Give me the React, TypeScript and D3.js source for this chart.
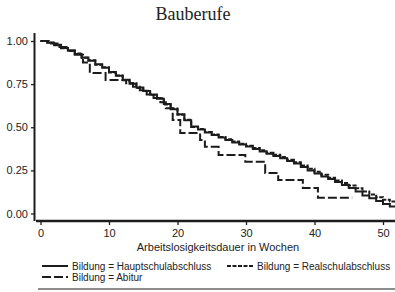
import * as d3 from "d3";
import React, { useRef, useEffect } from "react";

// survival per week (0..52)
const weeks = [0, 1, 2, 3, 4, 5, 6, 7, 8, 9, 10, 11, 12, 13, 14, 15, 16, 17, 18, 19, 20, 21, 22, 23, 24, 25, 26,
    27, 28, 29, 30, 31, 32, 33, 34, 35, 36, 37, 38, 39, 40, 41, 42, 43, 44, 45, 46, 47, 48, 49, 50, 51, 52];

const hauptSurv = [1.00, 0.99, 0.975, 0.96, 0.945, 0.925, 0.905, 0.885, 0.865, 0.845, 0.82, 0.798, 0.775, 0.752,
    0.73, 0.71, 0.69, 0.665, 0.635, 0.605, 0.575, 0.54, 0.505, 0.487, 0.47, 0.455, 0.44, 0.426, 0.412, 0.4,
    0.388, 0.374, 0.36, 0.346, 0.334, 0.32, 0.305, 0.29, 0.27, 0.25, 0.232, 0.215, 0.2, 0.182, 0.165, 0.148,
    0.128, 0.105, 0.088, 0.072, 0.055, 0.04, 0.03];

const realSurv = [1.00, 0.992, 0.978, 0.958, 0.942, 0.927, 0.903, 0.888, 0.862, 0.848, 0.818, 0.8, 0.772, 0.755,
    0.727, 0.712, 0.687, 0.668, 0.632, 0.608, 0.572, 0.543, 0.502, 0.49, 0.473, 0.458, 0.444, 0.43, 0.418, 0.405,
    0.393, 0.38, 0.366, 0.352, 0.34, 0.327, 0.312, 0.297, 0.278, 0.26, 0.242, 0.224, 0.207, 0.192, 0.177, 0.162,
    0.146, 0.127, 0.11, 0.094, 0.08, 0.069, 0.06];

// Abitur: fewer events, explicit step times
const abiturWeeks = [0, 1.2, 2.5, 3.8, 5, 6.2, 7.2, 9.5, 12.5, 13.5, 14.5, 15.5, 16.5, 17.5, 18.3, 19.3, 20.4,
    23.3, 24, 26, 29.9, 32.8, 34.7, 38.3, 40.5, 45.5];
const abiturSurv = [1.00, 0.985, 0.965, 0.945, 0.92, 0.875, 0.815, 0.774, 0.755, 0.735, 0.715, 0.69, 0.67, 0.645,
    0.61, 0.542, 0.467, 0.426, 0.387, 0.339, 0.30, 0.235, 0.194, 0.148, 0.092, 0.092];

const xTicks = [0, 10, 20, 30, 40, 50];
const yTicks = [0, 0.25, 0.5, 0.75, 1];

const legendItems = [
    { label: "Bildung = Hauptschulabschluss", dash: "none" },
    { label: "Bildung = Realschulabschluss", dash: "4,1.5" },
    { label: "Bildung = Abitur", dash: "9,3" },
];

const sans = "'Liberation Sans', Arial, sans-serif";
const ink = "#1c1c1c";

function App() {
    const width = 395;
    const height = 292;

    const xScale = d3.scaleLinear().domain([0, 50]).range([40.5, 383]);
    const yScale = d3.scaleLinear().domain([0, 1]).range([213.5, 41]);

    const lineBuilder = d3.line()
        .x((d) => xScale(d[0]))
        .y((d) => yScale(d[1]))
        .curve(d3.curveStepAfter);

    const hauptPath = lineBuilder(weeks.map((w, i) => [w, hauptSurv[i]]));
    const realPath = lineBuilder(weeks.map((w, i) => [w, realSurv[i]]));
    const abiPath = lineBuilder(abiturWeeks.map((w, i) => [w, abiturSurv[i]]));

    const yAxisRef = useRef(null);
    const xAxisRef = useRef(null);

    useEffect(() => {
        const yg = d3.select(yAxisRef.current);
        yg.selectAll("*").remove();
        yg.call(d3.axisLeft(yScale).tickValues(yTicks).tickFormat(d3.format(".2f")).tickSize(4).tickPadding(3))
        yg.select(".domain").remove();
        yg.selectAll("line").attr("stroke", ink).attr("stroke-width", 1.3);
        yg.selectAll("text").attr("font-family", sans).attr("font-size", 11).attr("fill", "#222");

        const xg = d3.select(xAxisRef.current);
        xg.selectAll("*").remove();
        xg.call(d3.axisBottom(xScale).tickValues(xTicks).tickSize(4).tickPadding(4))
        xg.select(".domain").remove();
        xg.selectAll("line").attr("stroke", ink).attr("stroke-width", 1.3);
        xg.selectAll("text").attr("font-family", sans).attr("font-size", 11).attr("fill", "#222");
    }, [xScale, yScale]);

    return (
        <svg width={width} height={height} style={{ position: "absolute", left: 0, top: 0, background: "#fff" }}>
            <text x={193} y={20} textAnchor="middle" fontFamily="'Liberation Serif', 'Times New Roman', serif"
                fontSize={18} fill="#222">Bauberufe</text>

            <defs>
                <clipPath id="plotclip">
                    <rect x={36} y={30} width={359} height={190} />
                </clipPath>
            </defs>

            <g clipPath="url(#plotclip)" fill="none" stroke={ink} strokeWidth={2}>
                <path d={abiPath} strokeDasharray="9,3" />
                <path d={realPath} strokeDasharray="4,1.5" />
                <path d={hauptPath} />
            </g>

            {/* axis lines */}
            <line x1={34.5} x2={34.5} y1={33} y2={221} stroke={ink} strokeWidth={2} />
            <line x1={36} x2={395} y1={221} y2={221} stroke={ink} strokeWidth={2.4} />
            <g ref={yAxisRef} transform="translate(35,0)" />
            <g ref={xAxisRef} transform="translate(0,221)" />

            <text x={218} y={251} textAnchor="middle" fontFamily={sans} fontSize={11} fill="#222">
                Arbeitslosigkeitsdauer in Wochen
            </text>

            {legendItems.map((item, i) => {
                const lx = i === 1 ? 227 : 42;
                const ly = i === 2 ? 277 : 266;
                return (
                    <g key={item.label}>
                        <line x1={lx} x2={lx + 26} y1={ly} y2={ly} stroke={ink} strokeWidth={2}
                            strokeDasharray={item.dash} />
                        <text x={lx + 30} y={ly + 3.5} fontFamily={sans} fontSize={10} fill="#222">{item.label}</text>
                    </g>
                );
            })}

            <line x1={38} x2={395} y1={289} y2={289} stroke="#666" strokeWidth={1.6} />
        </svg>
    );
}

export default App;
